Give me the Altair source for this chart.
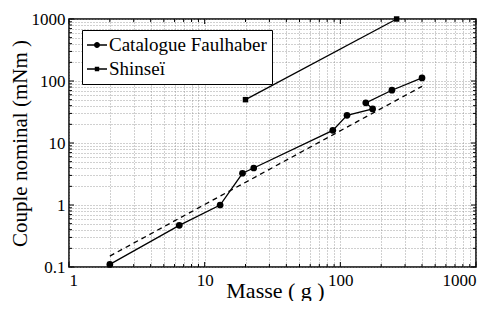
import altair as alt
import pandas as pd

# Data
faul_x = [2, 6.5, 13, 19, 23, 88, 112, 173, 154, 240, 400]
faul_y = [0.11, 0.47, 1.0, 3.25, 3.95, 16, 28, 35.5, 44.5, 71, 112]
shin_x = [20, 260]
shin_y = [50, 1000]
fit_x = [2, 400]
fit_y = [0.15, 82]
series_names = ["Catalogue Faulhaber", "Shinseï"]

x_major = [1, 10, 100, 1000]
y_major = [0.1, 1, 10, 100, 1000]
x_ticks = [m * 10 ** k for k in range(0, 3) for m in range(1, 10)] + [1000]
y_ticks = [round(m * 10 ** k, 6) for k in range(-1, 3) for m in range(1, 10)] + [1000]

faul = pd.DataFrame({"x": faul_x, "y": faul_y, "i": list(range(len(faul_x))), "s": series_names[0]})
shin = pd.DataFrame({"x": shin_x, "y": shin_y, "i": [0, 1], "s": series_names[1]})
fit = pd.DataFrame({"x": fit_x, "y": fit_y})
leg = pd.DataFrame({"s": series_names, "x": [1, 1], "y": [1, 1]})
xt = pd.DataFrame({"x": x_ticks, "major": [v in x_major for v in x_ticks]})
yt = pd.DataFrame({"y": y_ticks, "major": [v in y_major for v in y_ticks]})

W, H = 407, 248
FONT = "Liberation Serif"
lab_expr = "abs(log(datum.value)/LN10 - round(log(datum.value)/LN10)) < 1e-6 ? format(datum.value, '~g') : ''"

xs = alt.Scale(type="log", domain=[1, 1000], nice=False)
ys = alt.Scale(type="log", domain=[0.1, 1000], nice=False)

xax = alt.Axis(values=x_ticks, labelExpr=lab_expr, labelOverlap=False, ticks=False,
               grid=True, gridDash=[1, 2], gridColor="#888", gridWidth=0.8,
               domain=False, labelFont=FONT, labelFontSize=17, labelColor="black",
               titleFont=FONT, titleFontSize=22, titleFontWeight="normal", titleColor="black",
               labelPadding=5, titleY=30, titleX=206, titleAlign="center",
               titleBaseline="alphabetic", title="Masse ( g )")
yax = alt.Axis(values=y_ticks, labelExpr=lab_expr, labelOverlap=False, ticks=False,
               grid=True, gridDash=[1, 2], gridColor="#888", gridWidth=0.8,
               domain=False, labelFont=FONT, labelFontSize=17, labelColor="black",
               titleFont=FONT, titleFontSize=21, titleFontWeight="normal", titleColor="black",
               labelPadding=4, titlePadding=1, title="Couple nominal (mNm )")

X = alt.X("x:Q", scale=xs, axis=xax)
Y = alt.Y("y:Q", scale=ys, axis=yax)

faul_line = alt.Chart(faul).mark_line(color="black", strokeWidth=1.3).encode(x=X, y=Y, order="i:Q")
faul_pts = alt.Chart(faul).mark_point(shape="circle", filled=True, color="black", size=45, opacity=1).encode(x=X, y=Y)
shin_line = alt.Chart(shin).mark_line(color="black", strokeWidth=1.3).encode(x=X, y=Y, order="i:Q")
shin_pts = alt.Chart(shin).mark_point(shape="square", filled=True, color="black", size=30, opacity=1).encode(x=X, y=Y)
fit_line = alt.Chart(fit).mark_line(color="black", strokeWidth=1.3, strokeDash=[5, 4]).encode(x=X, y=Y)

# inward tick marks on all four sides
tick_layers = []
for major, L in [(True, 5), (False, 3)]:
    fx = alt.Chart(xt).transform_filter(alt.datum.major == major)
    fy = alt.Chart(yt).transform_filter(alt.datum.major == major)
    tick_layers.append(fx.mark_rule(color="black", strokeWidth=1).encode(
        x=X, y=alt.value(H), y2=alt.value(H - L)))
    tick_layers.append(fx.mark_rule(color="black", strokeWidth=1).encode(
        x=X, y=alt.value(0), y2=alt.value(L)))
    tick_layers.append(fy.mark_rule(color="black", strokeWidth=1).encode(
        y=Y, x=alt.value(0), x2=alt.value(L)))
    tick_layers.append(fy.mark_rule(color="black", strokeWidth=1).encode(
        y=Y, x=alt.value(W), x2=alt.value(W - L)))

# legend symbols: a thin bar (line) plus a marker, all as filled shapes
p1 = "M-1,-0.065L1,-0.065L1,0.065L-1,0.065Z M0.3,0A0.3,0.3,0,1,1,-0.3,0A0.3,0.3,0,1,1,0.3,0Z"
p2 = "M-1,-0.065L1,-0.065L1,0.065L-1,0.065Z M-0.22,-0.22L0.22,-0.22L0.22,0.22L-0.22,0.22Z"

legend_layer = alt.Chart(leg).mark_point(
    opacity=0, filled=True, color="black", size=400
).encode(
    x=X, y=Y,
    shape=alt.Shape("s:N", scale=alt.Scale(domain=series_names, range=[p1, p2]),
                    legend=alt.Legend(title=None, orient="none", legendX=13, legendY=11,
                                      strokeColor="black", fillColor="white", padding=5,
                                      symbolSize=400, symbolStrokeWidth=0,
                                      symbolFillColor="black",
                                      symbolOpacity=1, labelFont=FONT, labelFontSize=19,
                                      labelColor="black", rowPadding=4, labelOffset=2,
                                      labelLimit=300)),
)

chart = alt.layer(fit_line, faul_line, faul_pts, shin_line, shin_pts, *tick_layers, legend_layer).properties(
    width=W, height=H,
    autosize=alt.AutoSizeParams(type="none"),
    padding={"left": 61, "top": 11, "right": 10, "bottom": 34},
).configure(font=FONT).configure_axis(labelFont=FONT, titleFont=FONT).configure_legend(
    labelFont=FONT
).configure_view(stroke="black", strokeWidth=1.5)

chart.save("out.html", embed_options={"renderer": "svg", "actions": False})
